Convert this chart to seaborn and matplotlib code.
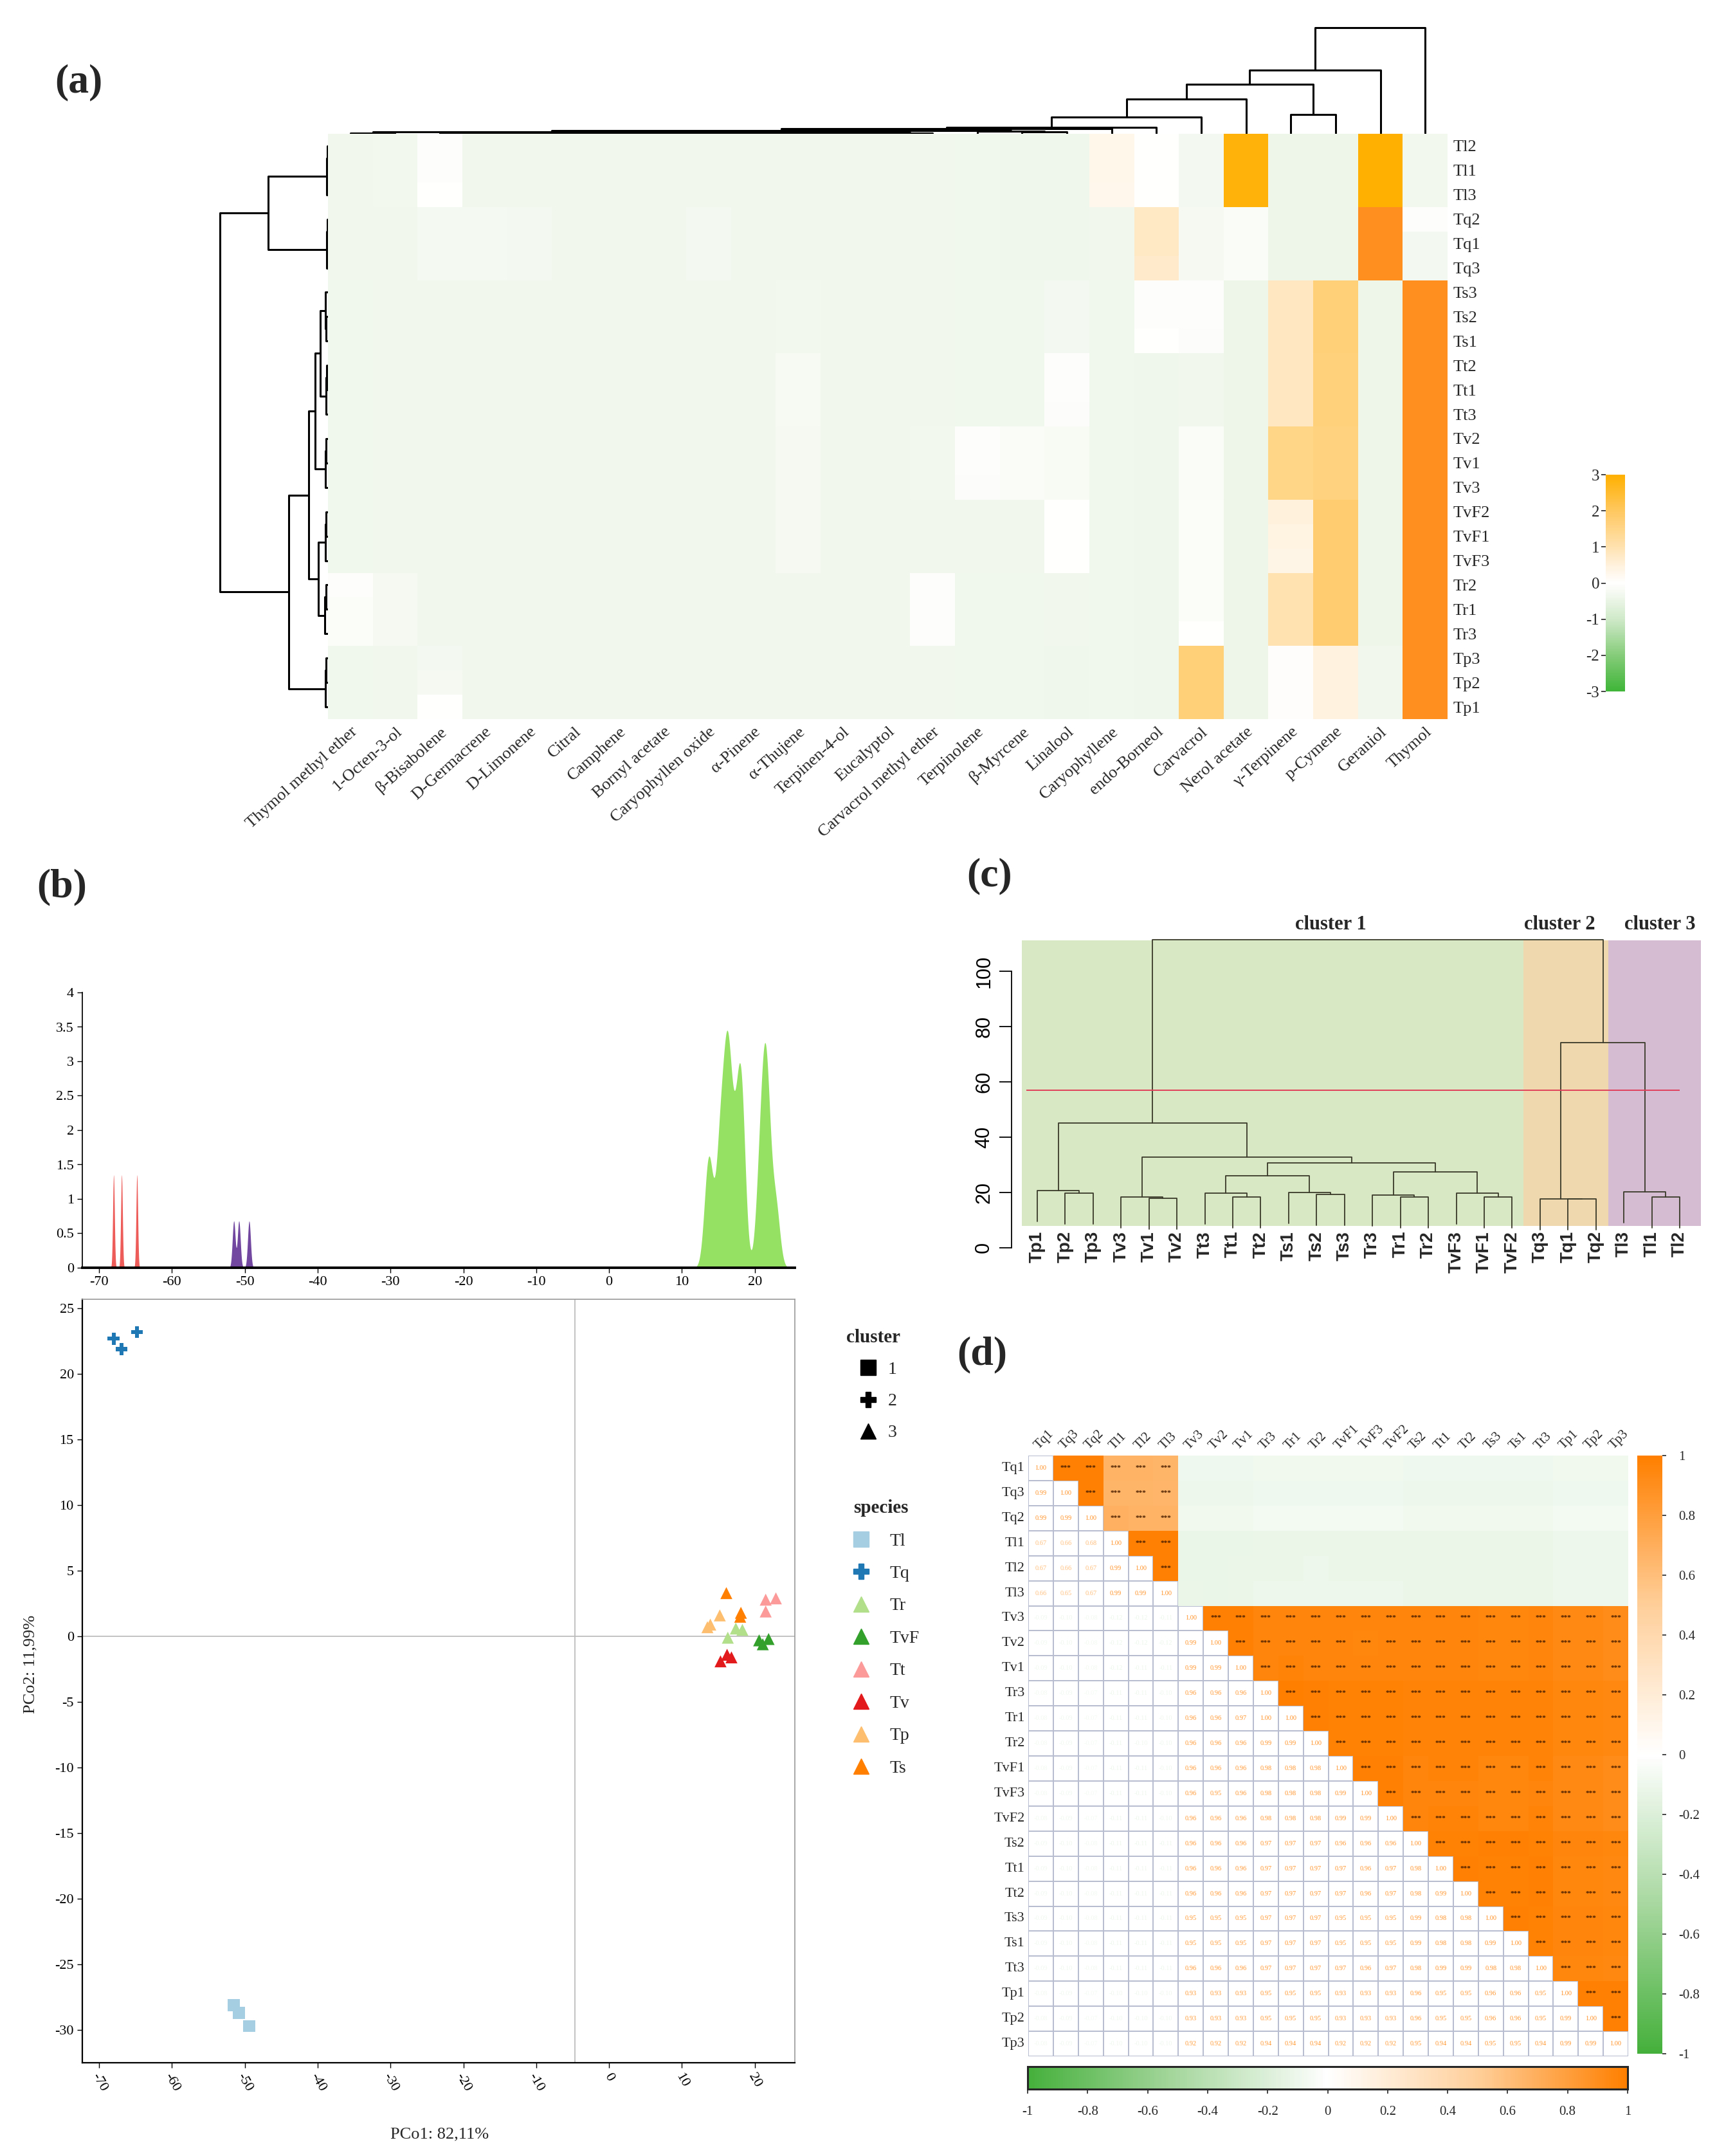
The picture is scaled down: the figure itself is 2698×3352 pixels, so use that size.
import numpy as np
import pandas as pd
import matplotlib
matplotlib.use("Agg")
import matplotlib.pyplot as plt
import seaborn as sns
from matplotlib.colors import LinearSegmentedColormap, ListedColormap
from matplotlib.lines import Line2D
from matplotlib.patches import Rectangle

# ------------------------------------------------------------------ DATA
# (a) heatmap of standardised compound contents
heat_rows = ["Tl2", "Tl1", "Tl3", "Tq2", "Tq1", "Tq3", "Ts3", "Ts2", "Ts1", "Tt2", "Tt1", "Tt3",
             "Tv2", "Tv1", "Tv3", "TvF2", "TvF1", "TvF3", "Tr2", "Tr1", "Tr3", "Tp3", "Tp2", "Tp1"]
compounds = ["Thymol methyl ether", "1-Octen-3-ol", "β-Bisabolene", "D-Germacrene", "D-Limonene",
             "Citral", "Camphene", "Bornyl acetate", "Caryophyllen oxide", "α-Pinene", "α-Thujene",
             "Terpinen-4-ol", "Eucalyptol", "Carvacrol methyl ether", "Terpinolene", "β-Myrcene",
             "Linalool", "Caryophyllene", "endo-Borneol", "Carvacrol", "Nerol acetate", "γ-Terpinene",
             "p-Cymene", "Geraniol", "Thymol"]
heat_z = [
    [-.35, -.32, -.05, -.33, -.35, -.35, -.35, -.35, -.34, -.35, -.35, -.35, -.35, -.35, -.37, -.38, -.38, .30, .00, -.30, 2.90, -.40, -.40, 3.00, -.32],
    [-.35, -.32, -.05, -.33, -.35, -.35, -.35, -.35, -.34, -.35, -.35, -.35, -.35, -.35, -.37, -.38, -.38, .30, .02, -.30, 2.90, -.40, -.40, 3.00, -.32],
    [-.35, -.32, -.02, -.33, -.35, -.35, -.35, -.35, -.34, -.35, -.35, -.35, -.35, -.35, -.37, -.38, -.38, .28, -.02, -.30, 2.90, -.40, -.40, 3.00, -.32],
    [-.35, -.33, -.28, -.28, -.30, -.34, -.35, -.34, -.30, -.35, -.35, -.35, -.35, -.35, -.37, -.38, -.38, -.35, .75, -.25, -.15, -.40, -.40, 3.40, -.05],
    [-.35, -.33, -.28, -.28, -.30, -.34, -.35, -.34, -.30, -.35, -.35, -.35, -.35, -.35, -.37, -.38, -.38, -.35, .75, -.25, -.15, -.40, -.40, 3.40, -.30],
    [-.35, -.33, -.28, -.28, -.30, -.34, -.35, -.34, -.30, -.35, -.35, -.35, -.35, -.35, -.37, -.38, -.38, -.35, .70, -.25, -.15, -.40, -.40, 3.40, -.30],
    [-.36, -.33, -.33, -.33, -.35, -.35, -.35, -.35, -.34, -.35, -.32, -.35, -.35, -.35, -.36, -.37, -.30, -.36, -.05, -.05, -.40, .80, 1.70, -.40, 3.50],
    [-.36, -.33, -.33, -.33, -.35, -.35, -.35, -.35, -.34, -.35, -.32, -.35, -.35, -.35, -.36, -.37, -.30, -.36, -.05, -.05, -.40, .80, 1.70, -.40, 3.50],
    [-.36, -.33, -.33, -.33, -.35, -.35, -.35, -.35, -.34, -.35, -.32, -.35, -.35, -.35, -.36, -.37, -.30, -.36, -.02, -.08, -.40, .80, 1.70, -.40, 3.50],
    [-.36, -.33, -.33, -.33, -.35, -.35, -.35, -.35, -.34, -.35, -.22, -.35, -.35, -.35, -.36, -.37, -.05, -.36, -.38, -.35, -.40, .80, 1.65, -.40, 3.50],
    [-.36, -.33, -.33, -.33, -.35, -.35, -.35, -.35, -.34, -.35, -.22, -.35, -.35, -.35, -.36, -.37, -.05, -.36, -.38, -.35, -.40, .80, 1.65, -.40, 3.50],
    [-.36, -.33, -.33, -.33, -.35, -.35, -.35, -.35, -.34, -.35, -.22, -.35, -.35, -.35, -.36, -.37, -.08, -.36, -.38, -.35, -.40, .80, 1.65, -.40, 3.50],
    [-.36, -.33, -.33, -.33, -.35, -.35, -.35, -.35, -.34, -.35, -.25, -.35, -.35, -.32, -.05, -.15, -.20, -.36, -.38, -.15, -.40, 1.50, 1.60, -.40, 3.50],
    [-.36, -.33, -.33, -.33, -.35, -.35, -.35, -.35, -.34, -.35, -.25, -.35, -.35, -.32, -.05, -.15, -.20, -.36, -.38, -.15, -.40, 1.50, 1.60, -.40, 3.50],
    [-.36, -.33, -.33, -.33, -.35, -.35, -.35, -.35, -.34, -.35, -.25, -.35, -.35, -.32, -.08, -.15, -.20, -.36, -.38, -.15, -.40, 1.50, 1.60, -.40, 3.50],
    [-.36, -.33, -.33, -.33, -.35, -.35, -.35, -.35, -.34, -.35, -.25, -.35, -.35, -.35, -.33, -.35, .00, -.36, -.38, -.10, -.40, .50, 1.80, -.40, 3.50],
    [-.36, -.33, -.33, -.33, -.35, -.35, -.35, -.35, -.34, -.35, -.25, -.35, -.35, -.35, -.33, -.35, .00, -.36, -.38, -.10, -.40, .40, 1.80, -.40, 3.50],
    [-.36, -.33, -.33, -.33, -.35, -.35, -.35, -.35, -.34, -.35, -.25, -.35, -.35, -.35, -.33, -.35, .00, -.36, -.38, -.10, -.40, .35, 1.80, -.40, 3.50],
    [-.05, -.25, -.33, -.33, -.35, -.35, -.35, -.35, -.34, -.35, -.33, -.35, -.35, -.05, -.36, -.37, -.35, -.36, -.38, -.10, -.40, 1.00, 1.80, -.40, 3.50],
    [-.10, -.25, -.33, -.33, -.35, -.35, -.35, -.35, -.34, -.35, -.33, -.35, -.35, -.05, -.36, -.37, -.35, -.36, -.38, -.10, -.40, 1.00, 1.80, -.40, 3.50],
    [-.10, -.25, -.33, -.33, -.35, -.35, -.35, -.35, -.34, -.35, -.33, -.35, -.35, -.05, -.36, -.37, -.35, -.36, -.38, -.02, -.40, 1.00, 1.80, -.40, 3.50],
    [-.36, -.33, -.30, -.33, -.35, -.35, -.35, -.35, -.34, -.35, -.33, -.35, -.35, -.35, -.36, -.37, -.38, -.36, -.38, 1.70, -.40, .05, .45, -.35, 3.50],
    [-.36, -.33, -.25, -.33, -.35, -.35, -.35, -.35, -.34, -.35, -.33, -.35, -.35, -.35, -.36, -.37, -.38, -.36, -.38, 1.70, -.40, .05, .45, -.35, 3.50],
    [-.36, -.33, .00, -.33, -.35, -.35, -.35, -.35, -.34, -.35, -.33, -.35, -.35, -.35, -.36, -.37, -.38, -.36, -.38, 1.70, -.40, .05, .45, -.35, 3.50],
]
heat_ticks = [3, 2, 1, 0, -1, -2, -3]
# (a) dendrograms: merges (child a, child b, height); leaves numbered in display order
col_merges = [(0, 1, 0.8), (2, 3, 0.6), (4, 5, 0.3), (6, 7, 0.3), (8, 9, 0.4), (10, 11, 0.5),
              (12, 13, 0.9), (26, 27, 0.9), (28, 29, 1.0), (32, 33, 1.2), (30, 31, 1.3), (34, 35, 1.5),
              (25, 36, 1.7), (15, 16, 1.6), (14, 38, 2.4), (37, 39, 3.2), (40, 17, 5.0), (41, 18, 6.2),
              (42, 19, 16), (43, 20, 33), (21, 22, 18), (44, 45, 47), (46, 23, 60), (47, 24, 100)]
row_merges = [(0, 1, 0.8), (24, 2, 1.2), (3, 4, 0.6), (26, 5, 1.0), (7, 8, 1.5), (6, 28, 2.5),
              (9, 10, 1.2), (30, 11, 2.0), (29, 31, 7), (12, 13, 1.5), (33, 14, 2.5), (32, 34, 12),
              (15, 16, 1.5), (36, 17, 2.5), (18, 19, 2.0), (38, 20, 3.0), (37, 39, 9), (35, 40, 18),
              (21, 22, 1.5), (42, 23, 2.5), (41, 43, 36), (25, 27, 55), (45, 44, 100)]

# (b) PCoA
pcoa_species = ["Tq"] * 3 + ["Tl"] * 3 + ["Ts"] * 3 + ["Tp"] * 3 + ["Tr"] * 3 + ["Tt"] * 3 + ["TvF"] * 3 + ["Tv"] * 3
pcoa_cluster = ["2"] * 3 + ["1"] * 3 + ["3"] * 18
pc1 = [-68.0, -66.9, -64.8, -51.5, -50.8, -49.4, 16.1, 18.1, 18.0, 13.5, 13.9, 15.2,
       16.3, 17.4, 18.3, 21.5, 22.9, 21.5, 20.6, 21.9, 21.1, 16.2, 15.3, 16.8]
pc2 = [22.7, 21.9, 23.2, -28.1, -28.7, -29.7, 3.3, 1.8, 1.5, 0.7, 0.9, 1.6,
       -0.1, 0.6, 0.5, 2.8, 2.9, 1.9, -0.3, -0.2, -0.6, -1.4, -1.9, -1.6]
species_order = ["Tl", "Tq", "Tr", "TvF", "Tt", "Tv", "Tp", "Ts"]
cluster_order = ["1", "2", "3"]
density_color = {"2": "#ec5350", "1": "#6a3d9a", "3": "#8ee05c"}
density_bw = {"2": 0.12, "1": 0.20, "3": 0.55}
density_peak = {"2": 1.35, "1": 0.68, "3": 3.45}
pc1_ref = -4.7

# (c) hierarchical clustering
hc_leaves = ["Tp1", "Tp2", "Tp3", "Tv3", "Tv1", "Tv2", "Tt3", "Tt1", "Tt2", "Ts1", "Ts2", "Ts3",
             "Tr3", "Tr1", "Tr2", "TvF3", "TvF1", "TvF2", "Tq3", "Tq1", "Tq2", "Tl3", "Tl1", "Tl2"]
hc_merges = [(1, 2, 19.7), (0, 24, 20.7), (4, 5, 17.9), (3, 26, 18.4), (7, 8, 18.3), (6, 28, 19.7),
             (10, 11, 19.2), (9, 30, 20.0), (29, 31, 25.9), (13, 14, 18.3), (12, 33, 19.0),
             (16, 17, 18.3), (15, 35, 19.7), (34, 36, 27.5), (32, 37, 30.6), (27, 38, 32.8),
             (25, 39, 45.0), (19, 20, 17.6), (18, 41, 17.7), (22, 23, 18.3), (21, 43, 20.2),
             (42, 44, 74.1), (40, 45, 111.4)]
hc_cut = 57
cluster_names = ["cluster 1", "cluster 2", "cluster 3"]
cluster_spans = [(0.45, 18.4), (18.4, 21.45), (21.45, 24.75)]
cluster_label_x = [11.5, 19.7, 23.3]

# (d) correlation matrix (lower triangle incl. diagonal)
corr_labels = ["Tq1", "Tq3", "Tq2", "Tl1", "Tl2", "Tl3", "Tv3", "Tv2", "Tv1", "Tr3", "Tr1", "Tr2",
               "TvF1", "TvF3", "TvF2", "Ts2", "Tt1", "Tt2", "Ts3", "Ts1", "Tt3", "Tp1", "Tp2", "Tp3"]
corr_lower = [
    [1.00],
    [0.99, 1.00],
    [0.99, 0.99, 1.00],
    [0.67, 0.66, 0.68, 1.00],
    [0.67, 0.66, 0.67, 0.99, 1.00],
    [0.66, 0.65, 0.67, 0.99, 0.99, 1.00],
    [-0.09, -0.10, -0.08, -0.12, -0.12, -0.11, 1.00],
    [-0.09, -0.10, -0.08, -0.12, -0.12, -0.12, 0.99, 1.00],
    [-0.09, -0.10, -0.08, -0.12, -0.11, -0.11, 0.99, 0.99, 1.00],
    [-0.08, -0.09, -0.07, -0.11, -0.11, -0.10, 0.96, 0.96, 0.96, 1.00],
    [-0.08, -0.09, -0.07, -0.11, -0.11, -0.10, 0.96, 0.96, 0.97, 1.00, 1.00],
    [-0.08, -0.09, -0.07, -0.11, -0.10, -0.10, 0.96, 0.96, 0.96, 0.99, 0.99, 1.00],
    [-0.08, -0.09, -0.07, -0.11, -0.11, -0.10, 0.96, 0.96, 0.96, 0.98, 0.98, 0.98, 1.00],
    [-0.08, -0.09, -0.07, -0.11, -0.11, -0.10, 0.96, 0.95, 0.96, 0.98, 0.98, 0.98, 0.99, 1.00],
    [-0.08, -0.09, -0.07, -0.11, -0.11, -0.10, 0.96, 0.96, 0.96, 0.98, 0.98, 0.98, 0.99, 0.99, 1.00],
    [-0.09, -0.10, -0.08, -0.11, -0.11, -0.11, 0.96, 0.96, 0.96, 0.97, 0.97, 0.97, 0.96, 0.96, 0.96, 1.00],
    [-0.09, -0.10, -0.08, -0.11, -0.11, -0.11, 0.96, 0.96, 0.96, 0.97, 0.97, 0.97, 0.97, 0.96, 0.97, 0.98, 1.00],
    [-0.09, -0.10, -0.08, -0.11, -0.11, -0.11, 0.96, 0.96, 0.96, 0.97, 0.97, 0.97, 0.97, 0.96, 0.97, 0.98, 0.99, 1.00],
    [-0.09, -0.10, -0.08, -0.11, -0.11, -0.11, 0.95, 0.95, 0.95, 0.97, 0.97, 0.97, 0.95, 0.95, 0.95, 0.99, 0.98, 0.98, 1.00],
    [-0.09, -0.10, -0.08, -0.11, -0.11, -0.11, 0.95, 0.95, 0.95, 0.97, 0.97, 0.97, 0.95, 0.95, 0.95, 0.99, 0.98, 0.98, 0.99, 1.00],
    [-0.09, -0.10, -0.08, -0.11, -0.11, -0.11, 0.96, 0.96, 0.96, 0.97, 0.97, 0.97, 0.97, 0.96, 0.97, 0.98, 0.99, 0.99, 0.98, 0.98, 1.00],
    [-0.08, -0.09, -0.07, -0.10, -0.10, -0.10, 0.93, 0.93, 0.93, 0.95, 0.95, 0.95, 0.93, 0.93, 0.93, 0.96, 0.95, 0.95, 0.96, 0.96, 0.95, 1.00],
    [-0.08, -0.09, -0.07, -0.10, -0.10, -0.10, 0.93, 0.93, 0.93, 0.95, 0.95, 0.95, 0.93, 0.93, 0.93, 0.96, 0.95, 0.95, 0.96, 0.96, 0.95, 0.99, 1.00],
    [-0.08, -0.09, -0.07, -0.10, -0.10, -0.10, 0.92, 0.92, 0.92, 0.94, 0.94, 0.94, 0.92, 0.92, 0.92, 0.95, 0.94, 0.94, 0.95, 0.95, 0.94, 0.99, 0.99, 1.00],
]
corr_ticks = [1, 0.8, 0.6, 0.4, 0.2, 0, -0.2, -0.4, -0.6, -0.8, -1]

# ------------------------------------------------------------------ STYLE
sns.set_theme(style="ticks")
SERIF = ["Liberation Serif", "DejaVu Serif"]
SANS = ["Liberation Sans", "DejaVu Sans"]
plt.rcParams["font.family"] = SERIF
plt.rcParams["axes.unicode_minus"] = False

W, H = 2698, 3352
fig = plt.figure(figsize=(W / 100, H / 100), dpi=100)


def ax_at(x0, y0, x1, y1):
    return fig.add_axes([x0 / W, 1 - y1 / H, (x1 - x0) / W, (y1 - y0) / H])


def fmt_num(v):
    return "%g" % v


def dendro_segments(merges, leaf_pos, hang=None):
    n = len(leaf_pos)
    pos = {i: p for i, p in enumerate(leaf_pos)}
    hgt = {}
    segs = []
    for k, (a, b, h) in enumerate(merges):
        ya = hgt[a] if a >= n else (h - hang if hang is not None else 0.0)
        yb = hgt[b] if b >= n else (h - hang if hang is not None else 0.0)
        segs.append(([pos[a], pos[a], pos[b], pos[b]], [ya, h, h, yb]))
        pos[n + k] = (pos[a] + pos[b]) / 2
        hgt[n + k] = h
    return segs


# ------------------------------------------------------------------ (a)
heat_df = pd.DataFrame(heat_z, index=heat_rows, columns=compounds)
cmap_a = LinearSegmentedColormap.from_list("a", [
    (0.0, "#3fb538"), (1 / 6, "#86cc7a"), (2 / 6, "#cfe9c9"), (2.6 / 6, "#eef6ea"), (3 / 6, "#ffffff"),
    (3.5 / 6, "#fff1dc"), (4 / 6, "#ffe2b0"), (5 / 6, "#ffc860"), (1.0, "#ffb000")])
cmap_a.set_over("#ff9020")

ax_h = ax_at(510, 208, 2251, 1118)
cax_a = ax_at(2497, 738, 2527, 1075)
sns.heatmap(heat_df, ax=ax_h, cmap=cmap_a, vmin=-3, vmax=3, cbar_ax=cax_a,
            xticklabels=True, yticklabels=True)
ax_h.yaxis.tick_right()
ax_h.set_yticks(np.arange(len(heat_rows)) + 0.5)
ax_h.set_yticklabels(heat_rows, rotation=0, fontsize=19)
ax_h.set_xticks(np.arange(len(compounds)) + 0.5)
ax_h.set_xticklabels(compounds, rotation=42, ha="right", va="top", rotation_mode="anchor", fontsize=19)
ax_h.tick_params(length=0, pad=6)
ax_h.set_xlabel("")
ax_h.set_ylabel("")
cax_a.yaxis.set_ticks_position("left")
cax_a.set_yticks(heat_ticks)
cax_a.set_yticklabels([fmt_num(t) for t in heat_ticks], fontsize=18)
cax_a.tick_params(length=5, width=1.2, pad=2)
for s in cax_a.spines.values():
    s.set_visible(False)

ax_cd = ax_at(510, 40, 2251, 208)
for xs, ys in dendro_segments(col_merges, [i + 0.5 for i in range(len(compounds))]):
    ax_cd.plot(xs, ys, color="black", lw=2.2, solid_capstyle="butt")
ax_cd.set_xlim(0, len(compounds))
ax_cd.set_ylim(0, 102)
ax_cd.axis("off")

ax_rd = ax_at(340, 208, 510, 1118)
for xs, ys in dendro_segments(row_merges, [i + 0.5 for i in range(len(heat_rows))]):
    ax_rd.plot(ys, xs, color="black", lw=2.2, solid_capstyle="butt")
ax_rd.set_xlim(101, 0)
ax_rd.set_ylim(len(heat_rows), 0)
ax_rd.axis("off")

# ------------------------------------------------------------------ (b)
pcoa = pd.DataFrame({"PC1": pc1, "PC2": pc2, "species": pcoa_species, "cluster": pcoa_cluster})
pal = {"Tl": "#a6cee3", "Tq": "#1f78b4", "Tr": "#b2df8a", "TvF": "#33a02c",
       "Tt": "#fb9a99", "Tv": "#e31a1c", "Tp": "#fdbf6f", "Ts": "#ff7f00"}
markers = {"1": "s", "2": "P", "3": "^"}
XL = (-72.3, 25.5)
xt = list(range(-70, 21, 10))

ax_d = ax_at(128, 1543, 1236, 1971)
grid = np.linspace(XL[0], XL[1], 6000)
for cl in cluster_order:
    xs = pcoa.loc[pcoa.cluster == cl, "PC1"].to_numpy()
    dens = np.exp(-0.5 * ((grid[:, None] - xs[None, :]) / density_bw[cl]) ** 2).sum(axis=1)
    dens = dens / dens.max() * density_peak[cl]
    ax_d.fill_between(grid, 0, dens, color=density_color[cl], lw=0, alpha=0.95)
ax_d.set_xlim(*XL)
ax_d.set_ylim(0, 4)
ax_d.set_yticks(np.arange(0, 4.01, 0.5))
ax_d.set_yticklabels([fmt_num(v) for v in np.arange(0, 4.01, 0.5)], fontsize=16)
ax_d.set_xticks(xt)
ax_d.set_xticklabels([str(v) for v in xt], fontsize=16)
sns.despine(ax=ax_d)
ax_d.spines["bottom"].set_linewidth(2.8)
ax_d.spines["bottom"].set_color("black")
ax_d.spines["left"].set_color("black")
ax_d.tick_params(direction="out", length=6, width=1, colors="black")

ax_s = ax_at(128, 2020, 1236, 3207)
ax_s.axvline(pc1_ref, color="#bdbdbd", lw=1.3, zorder=0)
ax_s.axhline(0, color="#bdbdbd", lw=1.3, zorder=0)
sns.scatterplot(data=pcoa, x="PC1", y="PC2", hue="species", style="cluster", palette=pal,
                markers=markers, s=180, linewidth=0, legend=False, ax=ax_s, zorder=3)
ax_s.set_xlim(*XL)
ax_s.set_ylim(-32.5, 25.7)
ax_s.set_xticks(xt)
ax_s.set_xticklabels([str(v) for v in xt], rotation=-60, ha="center", va="top", fontsize=16)
yt = list(range(25, -31, -5))
ax_s.set_yticks(yt)
ax_s.set_yticklabels([str(v) for v in yt], fontsize=16)
ax_s.set_xlabel("")
ax_s.set_ylabel("")
for k in ["left", "bottom"]:
    ax_s.spines[k].set_color("black")
    ax_s.spines[k].set_linewidth(1.6)
for k in ["top", "right"]:
    ax_s.spines[k].set_color("#9a9a9a")
    ax_s.spines[k].set_linewidth(1.2)
ax_s.tick_params(direction="out", length=6, width=1, colors="black")
fig.text(684 / W, 1 - 3318 / H, "PCo1: 82,11%", ha="center", va="center", fontsize=19)
fig.text(47 / W, 1 - 2587 / H, "PCo2: 11,99%", ha="center", va="center", rotation=90, fontsize=19)

cl_handles = [Line2D([0], [0], marker=markers[c], color="black", linestyle="", markersize=17, label=c)
              for c in cluster_order]
leg1 = fig.legend(handles=cl_handles, title="cluster", loc="upper left",
                  bbox_to_anchor=(1305 / W, 1 - 2055 / H), frameon=False, fontsize=20,
                  title_fontproperties={"weight": "bold", "size": 21}, handletextpad=0.1,
                  labelspacing=0.85, borderaxespad=0)
sp_handles = [Line2D([0], [0], marker=("s" if sp == "Tl" else ("P" if sp == "Tq" else "^")),
                     color=pal[sp], linestyle="", markersize=17, label=sp) for sp in species_order]
leg2 = fig.legend(handles=sp_handles, title="species", loc="upper left",
                  bbox_to_anchor=(1300 / W, 1 - 2320 / H), frameon=False, fontsize=20,
                  title_fontproperties={"weight": "bold", "size": 21}, handletextpad=0.6,
                  labelspacing=0.9, borderaxespad=0)

# ------------------------------------------------------------------ (c)
ax_c = ax_at(1573, 1442, 2652, 1959)
ax_c.set_xlim(0.08, 24.92)
ax_c.set_ylim(-4.5, 115.9)
rect_colors = ["#d8e7c4", "#efd8ae", "#d5bcd3"]
for (x0, x1), col in zip(cluster_spans, rect_colors):
    ax_c.add_patch(Rectangle((x0, 7.8), x1 - x0, 111.2 - 7.8, facecolor=col, edgecolor="none", zorder=0))
hang = 0.1 * max(m[2] for m in hc_merges)
for xs, ys in dendro_segments(hc_merges, [i + 1 for i in range(len(hc_leaves))], hang=hang):
    ax_c.plot(xs, ys, color="#3a3a2a", lw=1.3, zorder=2)
ax_c.hlines(hc_cut, 0.6, 24.0, color="#e0405a", lw=1.4, zorder=3)
for i, name in enumerate(hc_leaves):
    ax_c.text(i + 1, 6.0, name, rotation=90, ha="center", va="top", fontsize=20,
              fontweight="bold", family=SANS, clip_on=False)
for name, x in zip(cluster_names, cluster_label_x):
    ax_c.text(x, 117, name, ha="center", va="center", fontsize=22, fontweight="bold", clip_on=False)
for k in ["top", "right", "bottom"]:
    ax_c.spines[k].set_visible(False)
ax_c.spines["left"].set_bounds(0, 100)
ax_c.spines["left"].set_color("black")
ax_c.spines["left"].set_linewidth(1.3)
ax_c.set_xticks([])
ax_c.set_yticks(list(range(0, 101, 20)))
ax_c.set_yticklabels([str(v) for v in range(0, 101, 20)], rotation=90, va="center",
                     fontsize=22, family=SANS)
ax_c.tick_params(axis="y", direction="out", length=14, width=1.3, colors="black", pad=6)
ax_c.patch.set_alpha(0)

# ------------------------------------------------------------------ (d)
n = len(corr_labels)
corr = np.zeros((n, n))
for i, row in enumerate(corr_lower):
    for j, v in enumerate(row):
        corr[i, j] = v
        corr[j, i] = v
corr_df = pd.DataFrame(corr, index=corr_labels, columns=corr_labels)
cmap_d = LinearSegmentedColormap.from_list("d", [
    (0.0, "#45b03b"), (0.25, "#a8d8a0"), (0.5, "#ffffff"), (0.75, "#ffcf9a"), (1.0, "#ff7f00")])
upper_mask = np.tril(np.ones((n, n), dtype=bool))
lower_mask = np.triu(np.ones((n, n), dtype=bool), k=1)
num_txt = np.array([["%.2f" % corr[i, j] for j in range(n)] for i in range(n)])
star_txt = np.where(corr > 0.5, "***", "")

ax_m = ax_at(1599, 2263, 2532, 3197)
cax_v = ax_at(2546, 2263, 2585, 3193)
cax_hz = ax_at(1598, 3213, 2531, 3248)
sns.heatmap(corr_df, mask=lower_mask, cmap=ListedColormap(["#ffffff"]), cbar=False, annot=num_txt,
            fmt="", annot_kws={"fontsize": 7.5}, linewidths=1.2, linecolor="#b9bdd0", ax=ax_m,
            xticklabels=True, yticklabels=True)
n_low = len(ax_m.texts)
for t in ax_m.texts[:n_low]:
    v = float(t.get_text())
    t.set_color(cmap_d((v + 1) / 2))
    t.set_alpha(0.85)
sns.heatmap(corr_df, mask=upper_mask, cmap=cmap_d, vmin=-1, vmax=1, cbar_ax=cax_v, annot=star_txt,
            fmt="", annot_kws={"fontsize": 8, "fontweight": "bold"}, ax=ax_m,
            xticklabels=True, yticklabels=True)
for t in ax_m.texts[n_low:]:
    t.set_color("#4a1e00")
ax_m.xaxis.tick_top()
ax_m.set_xticks(np.arange(n) + 0.5)
ax_m.set_xticklabels(corr_labels, rotation=45, ha="left", va="bottom", rotation_mode="anchor", fontsize=15)
ax_m.set_yticks(np.arange(n) + 0.5)
ax_m.set_yticklabels(corr_labels, rotation=0, fontsize=16)
ax_m.tick_params(length=0, pad=4)
ax_m.set_xlabel("")
ax_m.set_ylabel("")

cax_v.set_yticks(corr_ticks)
cax_v.set_yticklabels([fmt_num(t) for t in corr_ticks], fontsize=15)
cax_v.tick_params(length=4, width=1.2, pad=14)
cb_h = fig.colorbar(ax_m.collections[-1], cax=cax_hz, orientation="horizontal")
cb_h.outline.set_linewidth(2.2)
cax_hz.set_xticks(corr_ticks)
cax_hz.set_xticklabels([fmt_num(t) for t in corr_ticks], fontsize=15)
cax_hz.tick_params(length=5, width=1.2, pad=14)

# ------------------------------------------------------------------ panel labels
for lab, x, y in [("(a)", 122, 128), ("(b)", 96, 1379), ("(c)", 1539, 1362), ("(d)", 1527, 2106)]:
    fig.text(x / W, 1 - y / H, lab, fontsize=46, fontweight="bold", ha="center", va="center")

fig.savefig("out.png", dpi=100)
